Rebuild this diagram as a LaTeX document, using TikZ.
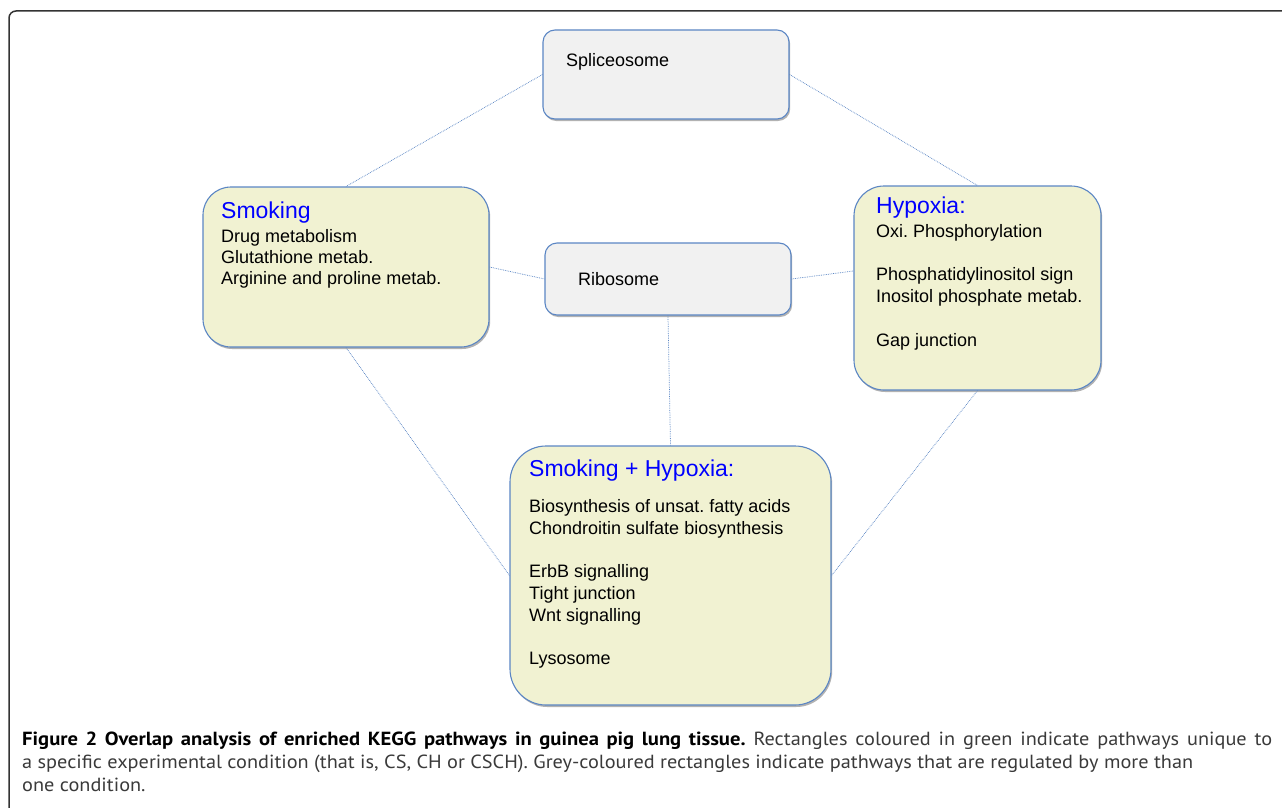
\documentclass[tikz,border=0pt]{standalone}
\usepackage{graphicx}
\usepackage{fontspec}
\setmainfont{Liberation Sans}
\newfontfamily\capbase{PT Sans}
\usetikzlibrary{shadows,calc}
\definecolor{edgeblue}{HTML}{5B86C4}
\definecolor{greyfill}{HTML}{F1F1F1}
\definecolor{greenfill}{HTML}{F1F2D2}
\definecolor{titleblue}{HTML}{0000FF}
\definecolor{capgrey}{HTML}{3A3A3A}
\definecolor{framegrey}{HTML}{333333}
\newsavebox\measA
\newsavebox\measB
\tikzset{
  boxbase/.style={draw=edgeblue, line width=1.1pt, inner sep=0pt,
    drop shadow={shadow xshift=1.2pt, shadow yshift=-2pt, opacity=0.3, fill=black}},
  greybox/.style={boxbase, fill=greyfill, rounded corners=12pt},
  greenbox/.style={boxbase, fill=greenfill},
  conn/.style={draw=edgeblue, line width=0.75pt, densely dotted},
  body/.style={anchor=base west, inner sep=0pt, font=\fontsize{18}{21.6}\selectfont, text=black},
  ttl/.style={anchor=base west, inner sep=0pt, font=\fontsize{23}{27}\selectfont, text=titleblue},
  capline/.style={anchor=base west, inner sep=0pt}
}
\frenchspacing
\begin{document}
\sbox\measA{\capbase\fontsize{19}{23}\selectfont a specific experimental condition (that is, CS, CH or CSCH). Grey-coloured rectangles indicate pathways that are regulated by more than}%
\sbox\measB{\capbase\fontsize{19}{23}\selectfont\bfseries Figure 2 Overlap analysis of enriched KEGG pathways in guinea pig lung tissue.}%
\pgfmathsetmacro\regstretch{1171/\the\wd\measA}%
\pgfmathsetmacro\boldstretch{695/\the\wd\measB}%
\edef\mkcapfont{\noexpand\newfontfamily\noexpand\capfont[FakeStretch=\regstretch,BoldFeatures={FakeStretch=\boldstretch}]{PT Sans}}%
\mkcapfont
\begin{tikzpicture}[x=1pt, y=-1pt]
\useasboundingbox (0,0) rectangle (1282,808);
\clip (0,0) rectangle (1282,808);
% outer frame
\draw[framegrey, line width=1.5pt, rounded corners=7pt] (9,830) -- (9,11) -- (1300,11);

% boxes
\node[greybox, minimum width=246pt, minimum height=89pt] (splice) at (666,74.5) {};
\node[greybox, minimum width=246pt, minimum height=72pt] (ribo) at (668,279) {};
\node[greenbox, rounded corners=28pt, minimum width=286pt, minimum height=160pt] (smoke) at (346,267) {};
\node[greenbox, rounded corners=30pt, minimum width=247pt, minimum height=204pt] (hyp) at (977.5,288) {};
\node[greenbox, rounded corners=36pt, minimum width=321pt, minimum height=259pt] (sh) at (670.5,575.5) {};

% connectors
\draw[conn] (splice.west) -- (smoke.north);
\draw[conn] (splice.east) -- (hyp.north);
\draw[conn] (smoke.east) -- (ribo.west);
\draw[conn] (ribo.east) -- ([yshift=17pt]hyp.west);
\draw[conn] (ribo.south) -- (sh.north);
\draw[conn] (smoke.south) -- (sh.west);
\draw[conn] (hyp.south) -- (sh.east);

% grey box texts
\node[body] (tsplice) at (566,66.5) {Spliceosome};
\node[body] (tribo) at (578,285) {Ribosome};

% Smoking
\node[ttl] (smt) at (221,218) {Smoking};
\node[body] (sm1) at (221,242) {Drug metabolism};
\node[body] (sm2) at (221,263) {Glutathione metab.};
\node[body] (sm3) at (221,284) {Arginine and proline metab.};

% Hypoxia
\node[ttl] (hyt) at (876,213) {Hypoxia:};
\node[body] (hy1) at (876,237) {Oxi. Phosphorylation};
\node[body] (hy2) at (876,280) {Phosphatidylinositol sign};
\node[body] (hy3) at (876,302) {Inositol phosphate metab.};
\node[body] (hy4) at (876,346) {Gap junction};

% Smoking + Hypoxia
\node[ttl] (sht) at (529,476) {Smoking + Hypoxia:};
\node[body] (sh1) at (529,512) {Biosynthesis of unsat. fatty acids};
\node[body] (sh2) at (529,534) {Chondroitin sulfate biosynthesis};
\node[body] (sh3) at (529,577) {ErbB signalling};
\node[body] (sh4) at (529,599) {Tight junction};
\node[body] (sh5) at (529,621) {Wnt signalling};
\node[body] (sh6) at (529,664) {Lysosome};

% caption
\node[capline, font=\capfont\fontsize{19}{23}\selectfont] (cap1) at (22,745) {\makebox[1250pt][s]{\textcolor{black}{\bfseries Figure 2 Overlap analysis of enriched KEGG pathways in guinea pig lung tissue.} \textcolor{capgrey}{Rectangles coloured in green indicate pathways unique to}}};
\node[capline, font=\capfont\fontsize{19}{23}\selectfont, text=capgrey] (cap2) at (22,768) {a specific experimental condition (that is, CS, CH or CSCH). Grey-coloured rectangles indicate pathways that are regulated by more than};
\node[capline, font=\capfont\fontsize{19}{23}\selectfont, text=capgrey] (cap3) at (22,791) {one condition.};
\end{tikzpicture}
\end{document}
